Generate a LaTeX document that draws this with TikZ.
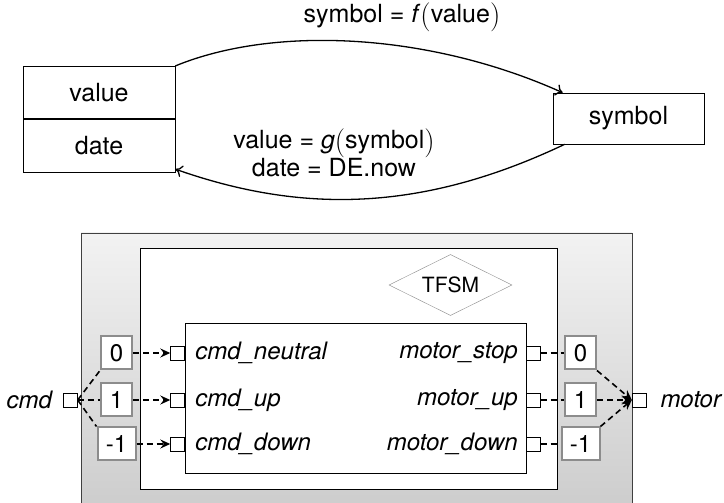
\documentclass[tikz,border=0pt]{standalone}
\usepackage{fontspec}
\setmainfont{TeX Gyre Heros}
\newfontfamily\parenfont{Latin Modern Roman}
\usepackage{tikz}
\usetikzlibrary{arrows, arrows.meta, shapes.geometric, positioning}
\definecolor{gray1}{rgb}{0.55,0.55,0.55}
\definecolor{shade1}{rgb}{0.95,0.95,0.95}
\definecolor{shade2}{rgb}{0.80,0.80,0.80}
% tall thin brackets round a function argument
\newcommand{\fnarg}[1]{\raisebox{-0.08em}{\fontsize{29}{29}\parenfont\selectfont(}#1%
  \raisebox{-0.08em}{\fontsize{29}{29}\parenfont\selectfont)}}

\begin{document}
\begin{tikzpicture}[x=1pt,y=1pt,>={Stealth[length=10pt,width=9pt,inset=3.5pt]},semithick]
  \tikzstyle{field}=[draw,minimum width=152pt,minimum height=52.5pt,inner sep=0pt,
                     font=\fontsize{25}{30}\selectfont]
  \tikzstyle{lbl}=[font=\fontsize{25}{26}\selectfont,align=center]
  \tikzstyle{convarc}=[-{To[length=7pt,width=12pt]},line width=1.3pt]
  \tikzstyle{frame}=[draw,inner sep=0pt]
  \tikzstyle{port}=[draw,fill=white,thin,minimum size=14pt,inner sep=0pt]
  \tikzstyle{sig}=[font=\fontsize{24}{28}\selectfont\itshape,inner sep=3pt]
  \tikzstyle{val}=[draw=gray1,line width=2pt,fill=white,minimum width=31pt,
                   minimum height=33pt,inner sep=2pt,font=\fontsize{24}{28}\selectfont]
  \tikzstyle{flow}=[dash pattern=on 6pt off 4pt,line width=1.6pt]

  \useasboundingbox (0,0) rectangle (724,503);

  % symbol <-> (value, date)
  \node[field]                    (value)  at (99,410.5)    {value};
  \node[field,below=0pt of value] (date)                    {date};
  \node[field,minimum width=151pt,minimum height=51pt]
                                  (symbol) at (628.5,384.5) {symbol};

  \draw[convarc] (value.north east)
        .. controls (275,478) and (430,470) .. ([xshift=10pt]symbol.north west);
  \draw[convarc] ([xshift=12pt]symbol.south west)
        .. controls (420,290) and (300,290) .. ([yshift=3pt]date.south east);
  \node[lbl] (fdef) at (402,486) {symbol = \textit{f}\fnarg{value}};
  \node[lbl] (gdef) at (334,350) {value = \textit{g}\fnarg{symbol}\\date = DE.now};

  % block with the state machine
  \node[frame,top color=shade1,bottom color=shade2,draw=black!75,
        minimum width=551pt,minimum height=280pt] (block) at (356.5,130) {};
  \node[frame,fill=white,minimum width=417pt,minimum height=241pt] (chart) at (348.5,134.5) {};
  \node[frame,fill=white,minimum width=341pt,minimum height=150pt] (fsm)   at (355.5,105) {};
  \node[diamond,draw=gray1,thin,aspect=2,minimum width=123pt,minimum height=61pt,inner sep=0pt,
        font=\fontsize{21}{24}\selectfont] (tfsm) at (450.5,218) {TFSM};

  % inputs
  \node[port] (neutral) at (177.5,150) {};
  \node[port] (up)      at (177.5,103) {};
  \node[port] (down)    at (177.5,59)  {};
  \node[sig,anchor=west] (lneutral) at (192,150) {cmd\_neutral};
  \node[sig,anchor=west] (lup)      at (192,103) {cmd\_up};
  \node[sig,anchor=west] (ldown)    at (192,59)  {cmd\_down};

  % outputs
  \node[port] (stop)  at (533.5,150) {};
  \node[port] (mup)   at (533.5,103) {};
  \node[port] (mdown) at (533.5,59)  {};
  \node[sig,anchor=east] (lstop)  at (521,150) {motor\_stop};
  \node[sig,anchor=east] (lmup)   at (521,103) {motor\_up};
  \node[sig,anchor=east] (lmdown) at (521,59)  {motor\_down};

  % external ports
  \node[port] (cmd)   at (70.5,103) {};
  \node[port] (motor) at (639,103)  {};
  \node[sig,left=8pt of cmd]     (lcmd)   {cmd};
  \node[sig,right=11pt of motor] (lmotor) {motor};

  % value mapping
  \node[val]                    (c0)  at (116.5,150) {0};
  \node[val]                    (c1)  at (116.5,103) {1};
  \node[val,minimum width=38pt] (cm1) at (116.5,59)  {-1};
  \node[val]                    (m0)  at (580.5,150) {0};
  \node[val]                    (m1)  at (580.5,103) {1};
  \node[val,minimum width=38pt] (mm1) at (580.5,59)  {-1};

  \path (cmd.east) edge[flow] (c0.south west)
                   edge[flow] (c1.west)
                   edge[flow] (cm1.north west)
        (c0)       edge[flow,->] (neutral)
        (c1)       edge[flow,->] (up)
        (cm1)      edge[flow,->] (down)
        (stop)     edge[flow] (m0)
        (mup)      edge[flow] (m1)
        (mdown)    edge[flow] (mm1)
        (m0.south east)  edge[flow,->] (motor.west)
        (m1.east)        edge[flow,->] (motor.west)
        (mm1.north east) edge[flow,->] (motor.west);
\end{tikzpicture}
\end{document}
